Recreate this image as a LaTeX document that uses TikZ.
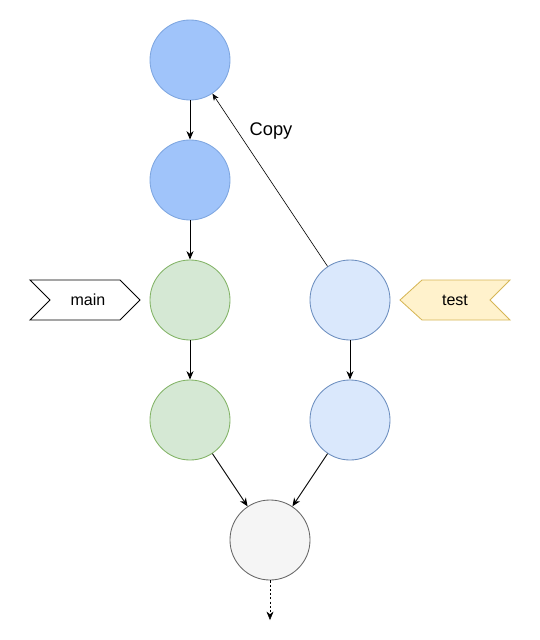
\documentclass[tikz,border=0pt]{standalone}
\usepackage{fontspec}
\setmainfont{Liberation Sans}
\usetikzlibrary{arrows.meta}
\definecolor{bleuvif}{HTML}{A0C4FA}
\definecolor{bleuvifbord}{HTML}{7EA6E0}
\definecolor{bleuclair}{HTML}{DAE8FC}
\definecolor{bleuclairbord}{HTML}{6C8EBF}
\definecolor{vertclair}{HTML}{D5E8D4}
\definecolor{vertbord}{HTML}{82B366}
\definecolor{grisclair}{HTML}{F5F5F5}
\definecolor{grisbord}{HTML}{666666}
\definecolor{jaune}{HTML}{FFF2CC}
\definecolor{jaunebord}{HTML}{D6B656}
\tikzset{
  commit/.style={circle, minimum size=2cm, inner sep=0pt, line width=0.6pt},
  fleche/.style={-{Stealth[length=6pt,width=5pt]}, line width=0.6pt},
  etiquette/.style={font=\fontsize{11.4}{13}\selectfont, inner sep=0pt},
}
\begin{document}
\begin{tikzpicture}[x=0.025cm, y=-0.025cm]
    \useasboundingbox (0,0) rectangle (540,640);
    %commits du haut
    \node[commit, fill=bleuvif, draw=bleuvifbord] (c1) at (190,60) {};
    \node[commit, fill=bleuvif, draw=bleuvifbord] (c2) at (190,180) {};
    %branche main
    \node[commit, fill=vertclair, draw=vertbord] (m1) at (190,300) {};
    \node[commit, fill=vertclair, draw=vertbord] (m2) at (190,420) {};
    %branche test
    \node[commit, fill=bleuclair, draw=bleuclairbord] (t1) at (350,300) {};
    \node[commit, fill=bleuclair, draw=bleuclairbord] (t2) at (350,420) {};
    %fusion
    \node[commit, fill=grisclair, draw=grisbord] (f) at (270,540) {};
    \coordinate (fin) at (270,620);
    %etiquettes
    \fill[white] (30,280) -- (120,280) -- (140,300) -- (120,320) -- (30,320) -- (50,300) -- cycle;
    \draw[line width=0.6pt] (30,280) -- (120,280) -- (140,300) -- (120,320) -- (30,320) -- (50,300) -- cycle;
    \node[etiquette] (main) at (88,300) {main};
    \fill[jaune] (400,300) -- (422,280) -- (510,280) -- (490,300) -- (510,320) -- (422,320) -- cycle;
    \draw[jaunebord, line width=0.6pt] (400,300) -- (422,280) -- (510,280) -- (490,300) -- (510,320) -- (422,320) -- cycle;
    \node[etiquette] (test) at (455,300) {test};
    %fleches
    \draw[fleche] (c1) -- (c2);
    \draw[fleche] (c2) -- (m1);
    \draw[fleche] (m1) -- (m2);
    \draw[fleche] (t1) -- (t2);
    \draw[fleche] (m2) -- (f);
    \draw[fleche] (t2) -- (f);
    \draw[fleche, dashed, line width=0.4pt, dash pattern=on 1.5pt off 1.5pt] (f) -- (fin);
    %copie
    \draw[-{Stealth[length=5pt,width=4pt]}, line width=0.4pt] (t1) -- (c1);
    \node[font=\fontsize{13}{15}\selectfont, inner sep=0pt] (copie) at (271,131) {Copy};
  \end{tikzpicture}
\end{document}
